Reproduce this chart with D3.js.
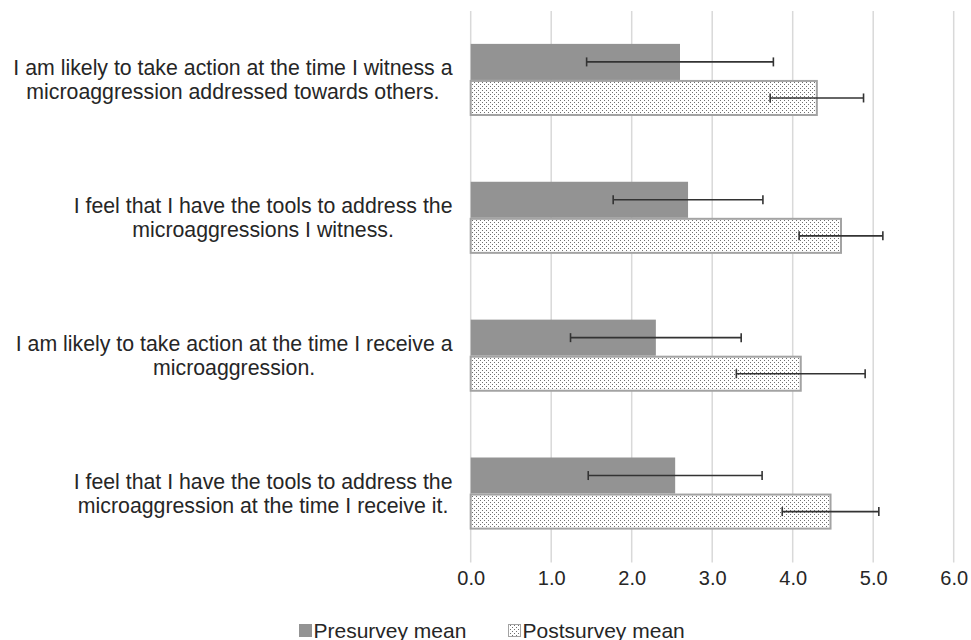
<!DOCTYPE html>
<html>
<head>
<meta charset="utf-8">
<script src="https://cdn.jsdelivr.net/npm/d3@7"></script>
<style>
  body { margin: 0; background: #fff; }
  text { font-family: "Liberation Sans", Arial, sans-serif; fill: #262626; }
</style>
</head>
<body>
<script>
// survey items, top to bottom
const items = [
    ["I am likely to take action at the time I witness a", "microaggression addressed towards others."],
    ["I feel that I have the tools to address the", "microaggressions I witness."],
    ["I am likely to take action at the time I receive a", "microaggression."],
    ["I feel that I have the tools to address the", "microaggression at the time I receive it."]
];
const series = ["Presurvey mean", "Postsurvey mean"];
const pre_mean = [2.60, 2.70, 2.30, 2.54];
const pre_err = [1.16, 0.93, 1.06, 1.08];
const post_mean = [4.30, 4.60, 4.10, 4.47];
const post_err = [0.58, 0.52, 0.80, 0.60];
const x_ticks = [0, 1, 2, 3, 4, 5, 6];

const width = 971, height = 640;
const plot = {left: 470.7, right: 953.7, top: 11, bottom: 562.5};

let data_array = [];
items.forEach((it, i) => {
    data_array.push({item: i, series: series[0], mean: pre_mean[i], err: pre_err[i]});
    data_array.push({item: i, series: series[1], mean: post_mean[i], err: post_err[i]});
});

const svg = d3.select('body').append('svg')
    .attr('width', width)
    .attr('height', height);

const defs = svg.append('defs');
const pat = defs.append('pattern')
    .attr('id', 'dots')
    .attr('patternUnits', 'userSpaceOnUse')
    .attr('width', 4)
    .attr('height', 4);
pat.append('rect').attr('width', 4).attr('height', 4).attr('fill', '#fff');
pat.append('rect').attr('x', 0).attr('y', 0).attr('width', 1).attr('height', 1).attr('fill', '#707070');
pat.append('rect').attr('x', 2).attr('y', 2).attr('width', 1).attr('height', 1).attr('fill', '#707070');

const x_scale = d3.scaleLinear()
    .domain([0, 6])
    .range([plot.left, plot.right]);

const y_scale = d3.scaleBand()
    .domain(d3.range(items.length))
    .range([plot.top, plot.bottom])
    .paddingInner(0.477)
    .paddingOuter(0.2385);

const y_sub = d3.scaleBand()
    .domain(series)
    .range([0, y_scale.bandwidth()]);

// gridlines
svg.append('g')
    .selectAll('line')
    .data(x_ticks)
    .enter()
    .append('line')
    .attr('x1', d => x_scale(d))
    .attr('x2', d => x_scale(d))
    .attr('y1', plot.top)
    .attr('y2', plot.bottom)
    .attr('stroke', '#d9d9d9')
    .attr('stroke-width', 1.5);

// x axis labels
const x_axis = d3.axisBottom(x_scale)
    .tickValues(x_ticks)
    .tickFormat(d3.format('.1f'))
    .tickSize(0)
    .tickPadding(0);
const xg = svg.append('g')
    .attr('transform', 'translate(0,' + plot.bottom + ')')
    .call(x_axis);
xg.select('.domain').remove();
xg.selectAll('text')
    .attr('font-size', '20px')
    .attr('font-family', '"Liberation Sans", Arial, sans-serif')
    .attr('fill', '#262626')
    .attr('dy', null)
    .attr('y', 22.5);

// bars
const bar_h = y_sub.bandwidth();
svg.append('g')
    .selectAll('rect')
    .data(data_array)
    .enter()
    .append('rect')
    .attr('x', x_scale(0))
    .attr('y', d => y_scale(d.item) + y_sub(d.series) + (d.series === series[1] ? 1 : 0))
    .attr('width', d => x_scale(d.mean) - x_scale(0))
    .attr('height', d => d.series === series[1] ? bar_h - 2 : bar_h)
    .attr('fill', d => d.series === series[0] ? '#939393' : 'url(#dots)')
    .attr('stroke', d => d.series === series[0] ? 'none' : '#a3a3a3')
    .attr('stroke-width', 2);

// error bars
const eb = svg.append('g')
    .selectAll('g')
    .data(data_array)
    .enter()
    .append('g')
    .attr('transform', d => 'translate(0,' + (y_scale(d.item) + y_sub(d.series) + bar_h / 2) + ')');
eb.append('line')
    .attr('x1', d => x_scale(d.mean - d.err))
    .attr('x2', d => x_scale(d.mean + d.err))
    .attr('stroke', '#333')
    .attr('stroke-width', 1.6);
eb.append('line')
    .attr('x1', d => x_scale(d.mean - d.err))
    .attr('x2', d => x_scale(d.mean - d.err))
    .attr('y1', -4.5).attr('y2', 4.5)
    .attr('stroke', '#333')
    .attr('stroke-width', 1.6);
eb.append('line')
    .attr('x1', d => x_scale(d.mean + d.err))
    .attr('x2', d => x_scale(d.mean + d.err))
    .attr('y1', -4.5).attr('y2', 4.5)
    .attr('stroke', '#333')
    .attr('stroke-width', 1.6);

// category labels: centred lines, block right-aligned
const right_edge = 452.5;
items.forEach((lines, i) => {
    const g = svg.append('g');
    const cy = y_scale(i) + y_scale.bandwidth() / 2;
    const t = g.selectAll('text')
        .data(lines)
        .enter()
        .append('text')
        .attr('font-size', '21.3px')
        .attr('text-anchor', 'middle')
        .attr('y', (d, j) => cy - 4.5 + j * 24)
        .text(d => d);
    let max_w = 0;
    t.each(function () { max_w = Math.max(max_w, this.getComputedTextLength()); });
    t.attr('x', right_edge - max_w / 2);
});

// legend
const legend = svg.append('g')
    .attr('transform', 'translate(299,623)');
const leg_x = [0, 209];
series.forEach((s, i) => {
    const lg = legend.append('g').attr('transform', 'translate(' + leg_x[i] + ',0)');
    lg.append('rect')
        .attr('x', i === 0 ? 0 : 0.5)
        .attr('y', i === 0 ? 1 : 1.5)
        .attr('width', i === 0 ? 13 : 12)
        .attr('height', i === 0 ? 13 : 12)
        .attr('fill', i === 0 ? '#939393' : 'url(#dots)')
        .attr('stroke', i === 0 ? 'none' : '#a3a3a3')
        .attr('stroke-width', 1);
    lg.append('text')
        .attr('x', 14.5)
        .attr('y', 14.5)
        .attr('font-size', '21px')
        .text(s);
});
</script>
</body>
</html>
